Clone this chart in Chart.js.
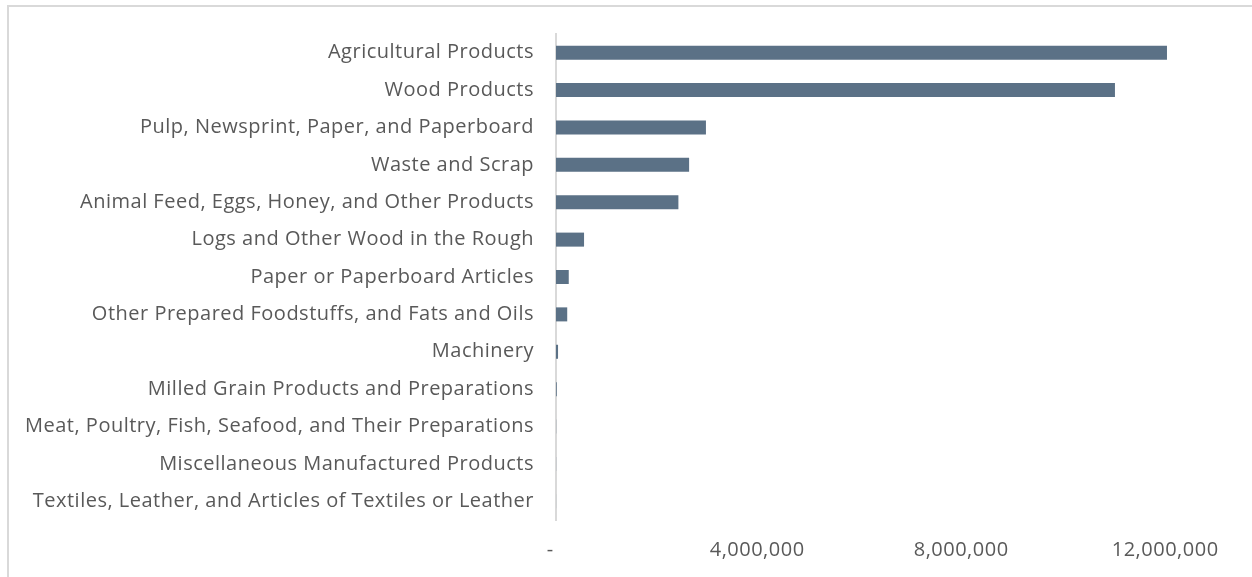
<!DOCTYPE html>
<html>
<head>
<meta charset="utf-8">
<script src="https://cdn.jsdelivr.net/npm/chart.js@4.4.1/dist/chart.umd.min.js"></script>
<style>
  body { margin: 0; background: #fff; }
  #frame {
    position: absolute; left: 7px; top: 5px; width: 1300px; height: 620px;
    border: 2px solid #d9d9d9; box-sizing: border-box;
  }
  #wrap { position: absolute; left: 0; top: 0; width: 1252px; height: 577px; }
</style>
</head>
<body>
<div id="frame"></div>
<div id="wrap"><canvas id="exports"></canvas></div>
<script>
// commodity groups, largest first
const categories = [
  'Agricultural Products',
  'Wood Products',
  'Pulp, Newsprint, Paper, and Paperboard',
  'Waste and Scrap',
  'Animal Feed, Eggs, Honey, and Other Products',
  'Logs and Other Wood in the Rough',
  'Paper or Paperboard Articles',
  'Other Prepared Foodstuffs, and Fats and Oils',
  'Machinery',
  'Milled Grain Products and Preparations',
  'Meat, Poultry, Fish, Seafood, and Their Preparations',
  'Miscellaneous Manufactured Products',
  'Textiles, Leather, and Articles of Textiles or Leather'
]

const values = [
  11980000, 10960000, 2940000, 2610000, 2400000, 550000,
  250000, 220000, 40000, 15000, 3000, 2000, 1000
]

const xTicks = [0, 4000000, 8000000, 12000000]

const textColor = '#595959'
const labelFont = { family: 'Open Sans', size: 20 }

function fmt(v) {
  if (v === 0) return '-  '
  return v.toLocaleString('en-US') + ' '
}

// open the lettering up a bit (canvas state resets on resize, so set it each pass)
const spacing = {
  id: 'spacing',
  beforeUpdate(chart) { chart.ctx.letterSpacing = '0.5px' },
  beforeDraw(chart) { chart.ctx.letterSpacing = '0.5px' }
}

const ctx = document.querySelector('#exports')
const exportsChart = new Chart(ctx, {
  type: 'bar',
  data: {
    labels: categories,
    datasets: [{
      data: values,
      backgroundColor: '#5b7186',
      categoryPercentage: 0.75,
      barPercentage: 0.5
    }]
  },
  plugins: [spacing],
  options: {
    indexAxis: 'y',
    responsive: true,
    maintainAspectRatio: false,
    animation: false,
    layout: { padding: { top: 33, right: 84, bottom: 12, left: 7 } },
    plugins: { legend: { display: false }, tooltip: { enabled: false } },
    scales: {
      x: {
        min: 0,
        max: 12000000,
        afterBuildTicks: (axis) => { axis.ticks = xTicks.map(v => ({ value: v })) },
        afterFit: (axis) => { axis.height = 45 },
        grid: { display: false, drawTicks: false },
        border: { display: false },
        ticks: {
          color: textColor,
          font: labelFont,
          padding: 18,
          maxRotation: 0,
          callback: (v) => fmt(v)
        }
      },
      y: {
        afterFit: (axis) => { axis.width = 549 },
        grid: { display: false, drawTicks: false },
        border: { display: true, color: '#d9d9d9', width: 2 },
        ticks: {
          color: textColor,
          font: labelFont,
          padding: 22,
          autoSkip: false
        }
      }
    }
  }
})
</script>
</body>
</html>
